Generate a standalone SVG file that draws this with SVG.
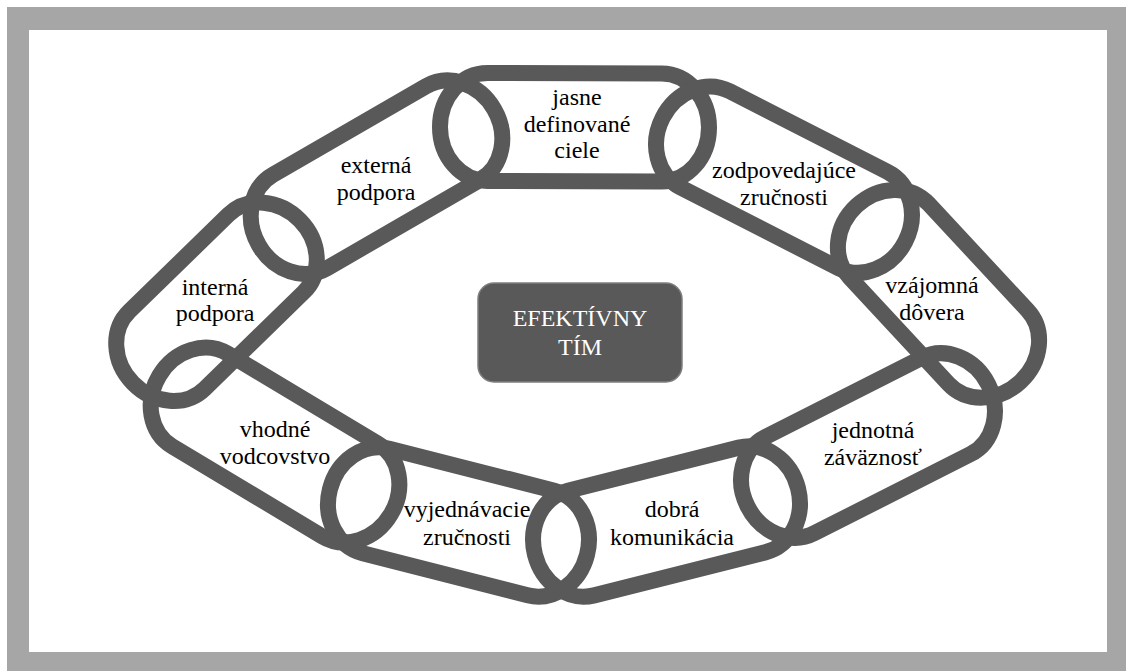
<svg xmlns="http://www.w3.org/2000/svg" width="1126" height="671" viewBox="0 0 1126 671">
<style>
.link{fill:none;stroke:#595959;stroke-width:16;stroke-linejoin:round}
.lbl{font-family:"Liberation Serif","Times New Roman",serif;font-size:24px;fill:#000;text-anchor:middle}
.ctr{font-family:"Liberation Serif","Times New Roman",serif;font-size:24px;fill:#fff;text-anchor:middle}
</style>
<rect width="1126" height="671" fill="#fff"/>
<rect x="7" y="7" width="1119" height="664" fill="#a6a6a6"/>
<rect x="29" y="30" width="1078" height="622" fill="#fff"/>
<g id="link-externa">
<path class="link" transform="translate(300,221.5) rotate(-30.04)" d="M0,-54H176.8A47.5,54 0 0 1 176.8,54H0A47.5,54 0 0 1 0,-54Z"/>
<text class="lbl" x="376" y="173">externá</text><text class="lbl" x="376" y="200">podpora</text>
</g>
<g id="link-jasne">
<path class="link" transform="translate(487.5,127) rotate(0.16)" d="M0,-54H174A47.5,54 0 0 1 174,54H0A47.5,54 0 0 1 0,-54Z"/>
<text class="lbl" x="577" y="105">jasne</text><text class="lbl" x="577" y="131.5">definované</text><text class="lbl" x="577" y="158">ciele</text>
</g>
<g id="link-zodpovedajuce">
<path class="link" transform="translate(705,139.3) rotate(27.06)" d="M0,-54H177.4A47.5,54 0 0 1 177.4,54H0A47.5,54 0 0 1 0,-54Z"/>
<text class="lbl" x="784" y="178">zodpovedajúce</text><text class="lbl" x="784" y="205">zručnosti</text>
</g>
<g id="link-vzajomna">
<path class="link" transform="translate(889,240.5) rotate(47.1)" d="M0,-54H145.4A47.5,54 0 0 1 145.4,54H0A47.5,54 0 0 1 0,-54Z"/>
<text class="lbl" x="932" y="293">vzájomná</text><text class="lbl" x="932" y="320">dôvera</text>
</g>
<g id="link-jednotna">
<path class="link" transform="translate(946,406) rotate(153.14)" d="M0,-54H174.9A47.5,54 0 0 1 174.9,54H0A47.5,54 0 0 1 0,-54Z"/>
<text class="lbl" x="873" y="438">jednotná</text><text class="lbl" x="873" y="465">záväznosť</text>
</g>
<g id="link-dobra">
<path class="link" transform="translate(752,500) rotate(165.88)" d="M0,-54H176.3A47.5,54 0 0 1 176.3,54H0A47.5,54 0 0 1 0,-54Z"/>
<text class="lbl" x="672" y="517">dobrá</text><text class="lbl" x="672" y="545">komunikácia</text>
</g>
<g id="link-vyjednavacie">
<path class="link" transform="translate(541,543) rotate(194.28)" d="M0,-54H170.3A47.5,54 0 0 1 170.3,54H0A47.5,54 0 0 1 0,-54Z"/>
<text class="lbl" x="467" y="517">vyjednávacie</text><text class="lbl" x="467" y="545">zručnosti</text>
</g>
<g id="link-vhodne">
<path class="link" transform="translate(350,490) rotate(210.96)" d="M0,-54H174.9A47.5,54 0 0 1 174.9,54H0A47.5,54 0 0 1 0,-54Z"/>
<text class="lbl" x="275" y="437">vhodné</text><text class="lbl" x="275" y="464">vodcovstvo</text>
</g>
<g id="link-interna">
<path class="link" transform="translate(167,350) rotate(-44.27)" d="M0,-54H138.3A47.5,54 0 0 1 138.3,54H0A47.5,54 0 0 1 0,-54Z"/>
<text class="lbl" x="215" y="295">interná</text><text class="lbl" x="215" y="321">podpora</text>
</g>
<g id="center">
<rect x="478" y="283" width="204" height="99" rx="16" fill="#595959" stroke="#7f7f7f" stroke-width="1.5"/>
<text class="ctr" x="580" y="326">EFEKTÍVNY</text><text class="ctr" x="580" y="355">TÍM</text>
</g>
</svg>
